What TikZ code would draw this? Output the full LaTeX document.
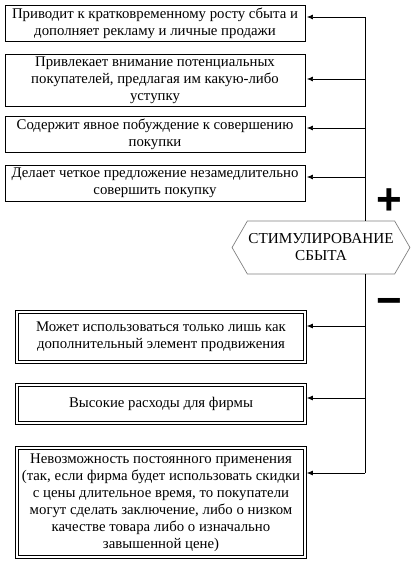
\documentclass[tikz,border=0pt]{standalone}
\usepackage{fontspec}
\setmainfont{Liberation Serif}
\newfontfamily\signfont{Liberation Sans}
\usetikzlibrary{arrows.meta, shapes.symbols}

\begin{document}
\begin{tikzpicture}[x=1pt, y=-1pt,
    plusbox/.style={draw, line width=0.9pt, align=center, inner sep=1pt,
      minimum width=300, minimum height=36, font=\fontsize{14.8}{17}\selectfont},
    minusbox/.style={draw, double, double distance=1.6pt, line width=0.8pt, align=center,
      inner sep=1pt, minimum width=288, font=\fontsize{14.8}{17}\selectfont},
    tip/.style={-{Latex[length=6pt, width=5pt]}, line width=0.7pt, shorten >=1.5pt},
    sign/.style={font=\signfont\bfseries\fontsize{44}{44}\selectfont, inner sep=0pt}]
    \useasboundingbox (0,0) rectangle (419,565);

    \node[plusbox] (p1) at (155,23) {Приводит к кратковременному росту сбыта и\\дополняет рекламу и личные продажи};
    \node[plusbox, minimum height=52] (p2) at (155,80) {Привлекает внимание потенциальных\\покупателей, предлагая им какую-либо\\уступку};
    \node[plusbox] (p3) at (155,134) {Содержит явное побуждение к совершению\\покупки};
    \node[plusbox] (p4) at (155,183) {Делает четкое предложение незамедлительно\\совершить покупку};

    \node[signal, signal to=west and east, signal pointer angle=120, draw=gray, line width=0.7pt,
      minimum width=176, minimum height=53, align=center, inner sep=1pt,
      font=\fontsize{15.2}{17}\selectfont] (stim) at (321,247.5) {СТИМУЛИРОВАНИЕ\\СБЫТА};

    \node[minusbox, minimum height=50] (m1) at (161,337) {Может использоваться только лишь как\\дополнительный элемент продвижения};
    \node[minusbox, minimum height=38] (m2) at (161,404) {Высокие расходы для фирмы};
    \node[minusbox, minimum height=109] (m3) at (161,502.5) {Невозможность постоянного применения\\(так, если фирма будет использовать скидки\\с цены длительное время, то покупатели\\могут сделать заключение, либо о низком\\качестве товара либо о изначально\\завышенной цене)};

    \node[sign] (plus) at (389.5,201.5) {+};
    \node[sign] (minus) at (389.5,307) {−};

    \foreach \n/\y in {p1/17, p2/79, p3/128, p4/177, m1/326, m2/398, m3/473} {
        \coordinate (t-\n) at (365,\y);
        \draw[tip] (t-\n) -- (t-\n -| \n.east);
    }
    \draw[line width=0.7pt] (t-p1) -- (t-p1 |- stim.north);
    \draw[line width=0.7pt] (t-p1 |- stim.south) -- (t-m3);
\end{tikzpicture}
\end{document}
